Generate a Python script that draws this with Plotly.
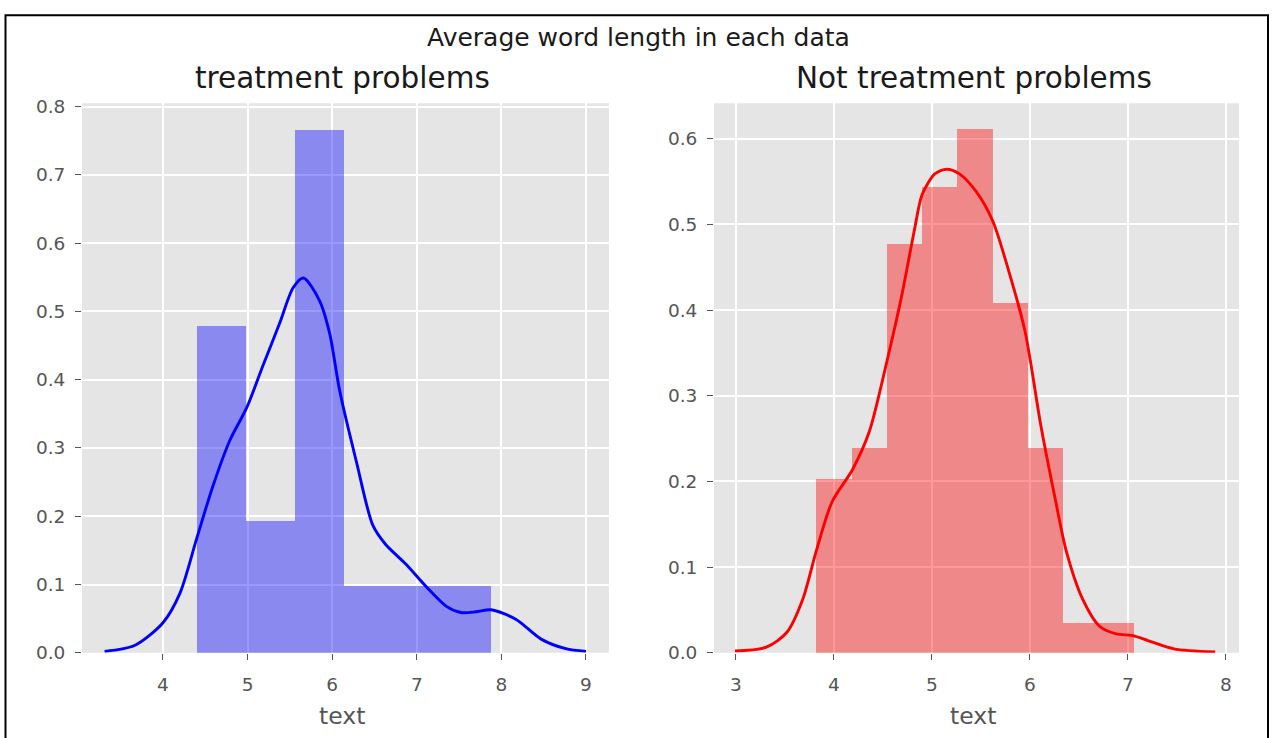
import plotly.graph_objects as go

W, H = 1273, 738

# ---- data ----
left_edges = [4.40, 4.98, 5.56, 6.14, 6.72, 7.30, 7.88]
left_heights = [0.479, 0.192, 0.766, 0.097, 0.097, 0.097]
left_kde_x = [3.31, 3.67, 4.00, 4.20, 4.40, 4.59, 4.79, 4.99, 5.18, 5.38, 5.54, 5.66,
              5.85, 5.97, 6.09, 6.29, 6.48, 6.63, 6.87, 7.11, 7.35, 7.52, 7.70, 7.88,
              8.17, 8.47, 8.76, 9.00]
left_kde_y = [0.002, 0.011, 0.044, 0.087, 0.168, 0.244, 0.311, 0.359, 0.420, 0.483, 0.535, 0.549,
              0.516, 0.468, 0.383, 0.278, 0.187, 0.159, 0.130, 0.097, 0.068, 0.059, 0.060, 0.063,
              0.049, 0.020, 0.006, 0.002]

right_edges = [3.82, 4.18, 4.54, 4.90, 5.26, 5.62, 5.98, 6.34, 6.70, 7.06]
right_heights = [0.203, 0.239, 0.477, 0.543, 0.611, 0.408, 0.239, 0.035, 0.035]
right_kde_x = [2.99, 3.31, 3.52, 3.68, 3.82, 3.98, 4.19, 4.36, 4.54, 4.69, 4.82, 4.90,
               5.03, 5.15, 5.28, 5.45, 5.62, 5.78, 5.95, 6.11, 6.25, 6.37, 6.54, 6.71,
               6.88, 7.05, 7.21, 7.47, 7.89]
right_kde_y = [0.002, 0.0065, 0.024, 0.062, 0.119, 0.176, 0.214, 0.258, 0.340, 0.416, 0.493, 0.535,
               0.559, 0.5645, 0.559, 0.5385, 0.504, 0.447, 0.375, 0.266, 0.184, 0.119, 0.062, 0.031,
               0.022, 0.020, 0.014, 0.0046, 0.001]

left_xticks = [4, 5, 6, 7, 8, 9]
left_yticks = [0.0, 0.1, 0.2, 0.3, 0.4, 0.5, 0.6, 0.7, 0.8]
right_xticks = [3, 4, 5, 6, 7, 8]
right_yticks = [0.0, 0.1, 0.2, 0.3, 0.4, 0.5, 0.6]

suptitle = "Average word length in each data"
titles = ["treatment problems", "Not treatment problems"]
xlabel = "text"

FONT = "DejaVu Sans"
GRAY = "#555555"


def px(x):
    return x / W


def py(y):
    return (H - y) / H


fig = go.Figure()

def add_hist(edges, heights, color, xa, ya):
    centers = [(edges[i] + edges[i + 1]) / 2 for i in range(len(heights))]
    widths = [edges[i + 1] - edges[i] for i in range(len(heights))]
    fig.add_trace(go.Bar(x=centers, y=heights, width=widths, marker=dict(color=color, line=dict(width=0)),
                         xaxis=xa, yaxis=ya, showlegend=False))

add_hist(left_edges, left_heights, "rgba(0,0,255,0.4)", "x", "y")
fig.add_trace(go.Scatter(x=left_kde_x, y=left_kde_y, mode="lines",
                         line=dict(color="#0000ff", width=2.9, shape="spline", smoothing=0.8),
                         xaxis="x", yaxis="y", showlegend=False))
add_hist(right_edges, right_heights, "rgba(255,0,0,0.4)", "x2", "y2")
fig.add_trace(go.Scatter(x=right_kde_x, y=right_kde_y, mode="lines",
                         line=dict(color="#ff0000", width=2.9, shape="spline", smoothing=0.8),
                         xaxis="x2", yaxis="y2", showlegend=False))

ydom = [py(661), py(98.5)]
axis_common = dict(showgrid=True, gridcolor="white", gridwidth=1.5, zeroline=False,
                   showline=False, ticks="outside", ticklen=6, tickwidth=1.2, tickcolor=GRAY,
                   tickfont=dict(family=FONT, size=18.5, color=GRAY))

fig.update_layout(
    width=W, height=H, margin=dict(l=0, r=0, t=0, b=0),
    paper_bgcolor="white", plot_bgcolor="#E5E5E5", bargap=0, barmode="overlay",
    xaxis=dict(domain=[px(82), px(609)], range=[3.043, 9.272], tickvals=left_xticks,
               anchor="y", ticklabelstandoff=9, **axis_common),
    yaxis=dict(domain=ydom, range=[0, 0.805], tickvals=left_yticks, tickformat=".1f",
               anchor="x", ticklabelstandoff=6, **axis_common),
    xaxis2=dict(domain=[px(714), px(1239)], range=[2.776, 8.133], tickvals=right_xticks,
                anchor="y2", ticklabelstandoff=9, **axis_common),
    yaxis2=dict(domain=ydom, range=[0, 0.6415], tickvals=right_yticks, tickformat=".1f",
                anchor="x2", ticklabelstandoff=6, **axis_common),
)

ann = [
    dict(text=suptitle, x=px(639), y=py(31), font=dict(family=FONT, size=25, color="#1a1a1a")),
    dict(text=titles[0], x=px(342), y=py(73), font=dict(family=FONT, size=29.5, color="#1a1a1a")),
    dict(text=titles[1], x=px(974), y=py(73), font=dict(family=FONT, size=29.5, color="#1a1a1a")),
    dict(text=xlabel, x=px(342), y=py(726), font=dict(family=FONT, size=23.5, color=GRAY)),
    dict(text=xlabel, x=px(973), y=py(726), font=dict(family=FONT, size=23.5, color=GRAY)),
]
for a in ann:
    fig.add_annotation(xref="paper", yref="paper", showarrow=False, xanchor="center",
                       yanchor="middle", **a)

fig.add_shape(type="rect", xref="paper", yref="paper", x0=px(5.5), x1=px(1268), y0=-0.05, y1=py(8.5),
              line=dict(color="black", width=2), fillcolor="rgba(0,0,0,0)")

fig.write_html("out.html")
